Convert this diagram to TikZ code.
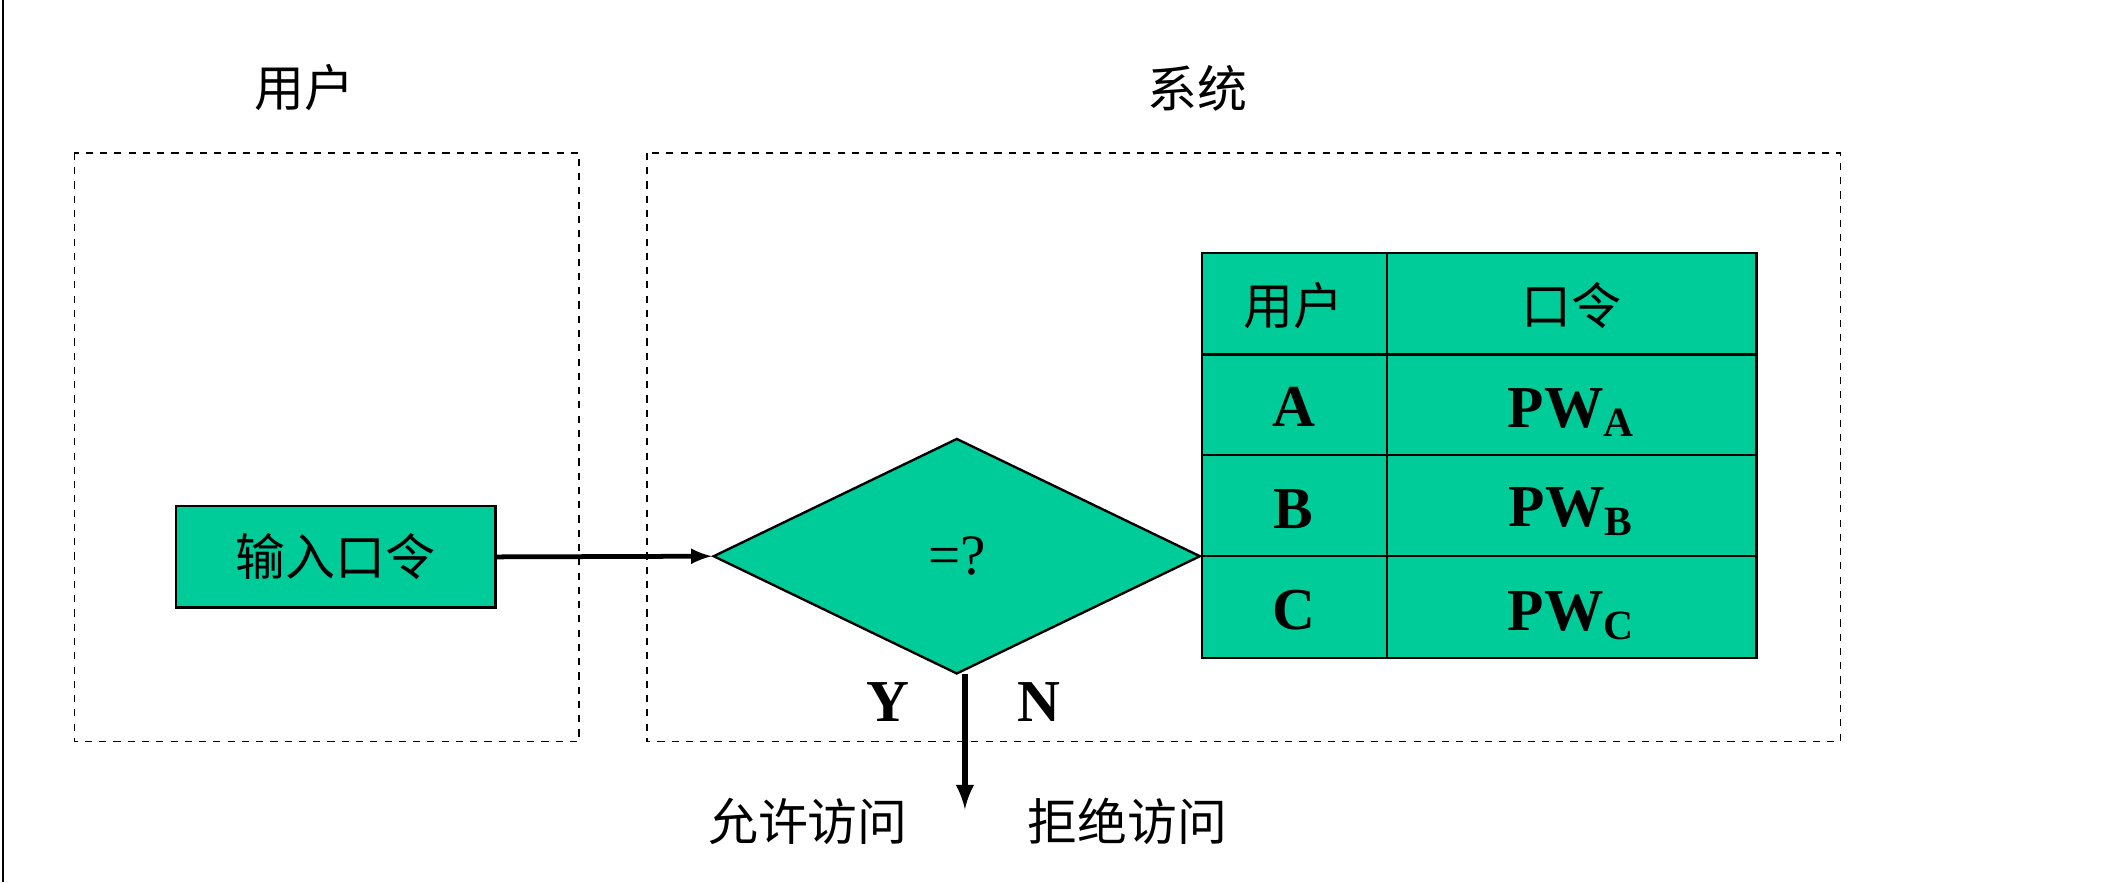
\documentclass[tikz,border=0pt]{standalone}
\usepackage{fontspec}
\setmainfont{Liberation Serif}
\newfontfamily\cjk{Noto Sans CJK SC}
\usetikzlibrary{shapes.geometric}
\definecolor{tg}{RGB}{0,204,153}
\begin{document}
\begin{tikzpicture}[x=0.02cm,y=-0.02cm,
  dbox/.style={draw,dashed,line width=0.7pt},
  cn/.style={font=\cjk\fontsize{21}{25}\selectfont},
  lt/.style={font=\bfseries\fontsize{25}{30}\selectfont},
  cell/.style={draw,fill=tg,line width=1pt}]
\useasboundingbox (0,0) rectangle (1568,652);
\draw[line width=1pt] (2,0) -- (2,652);
\node[cn] (tu) at (225,65) {用户};
\node[cn] (ts) at (885,65) {系统};
\draw[dbox] (55,113) rectangle (428,548);
\draw[dbox] (478,113) rectangle (1360,548);
\node[cell,cn,minimum width=236*0.02cm,minimum height=75*0.02cm] (in) at (248,411.5) {输入口令};
\node[draw,fill=tg,line width=1pt,diamond,minimum width=360*0.02cm,minimum height=174*0.02cm,inner sep=0pt,aspect=2.07] (d) at (707,411) {};
\node[font=\fontsize{24}{28}\selectfont] at (d.center) {=?};
\draw[line width=2pt,-latex] (in.east) -- (d.west);
% table
\foreach \y/\a/\b in {187/262,262/336,336/411,411/486}{}
\draw[cell] (888,187) rectangle (1025,262);
\draw[cell] (1025,187) rectangle (1298,262);
\draw[cell] (888,262) rectangle (1025,336);
\draw[cell] (1025,262) rectangle (1298,336);
\draw[cell] (888,336) rectangle (1025,411);
\draw[cell] (1025,336) rectangle (1298,411);
\draw[cell] (888,411) rectangle (1025,486);
\draw[cell] (1025,411) rectangle (1298,486);
\node[cn] (h1) at (956,226) {用户};
\node[cn] (h2) at (1161,226) {口令};
\node[lt] (ra) at (956,301) {A};
\node[lt] (pa) at (1161,305) {PW\textsubscript{A}};
\node[lt] (rb) at (956,376) {B};
\node[lt] (pb) at (1161,378) {PW\textsubscript{B}};
\node[lt] (rc) at (956,451) {C};
\node[lt] (pc) at (1161,455) {PW\textsubscript{C}};
\coordinate (ds) at (713,498);
\coordinate (de) at (713,598);
\draw[line width=2.5pt,-latex] (ds) -- (de);
\node[lt] (y) at (656,519) {Y};
\node[lt] (n) at (768,519) {N};
\node[cn] (al) at (597,607) {允许访问};
\node[cn] (dn) at (833,607) {拒绝访问};
\end{tikzpicture}
\end{document}
